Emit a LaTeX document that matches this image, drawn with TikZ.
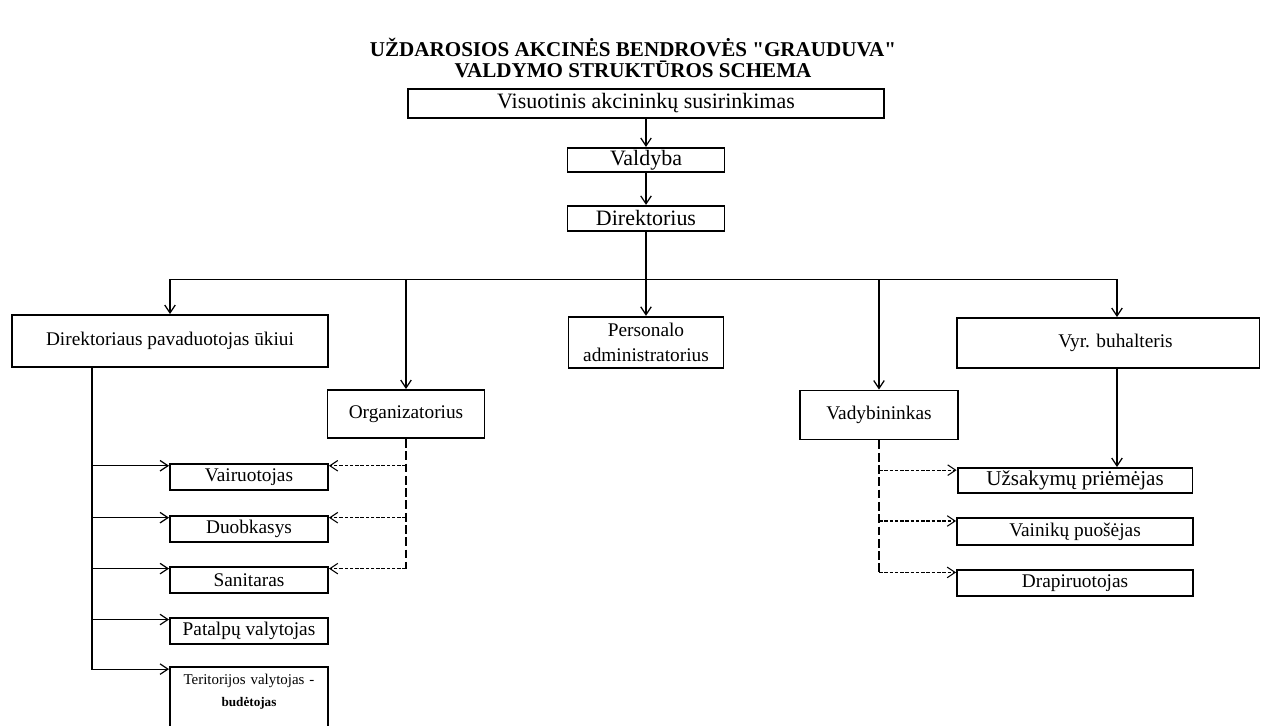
\documentclass[tikz,border=0pt]{standalone}
\usepackage{fontspec}
\setmainfont{Liberation Serif}[Ligatures=TeXOff]
\usepackage{tikz}
\usetikzlibrary{arrows.meta}
\usetikzlibrary{positioning}

\begin{document}
\begin{tikzpicture}[>={Straight Barb[length=4.5pt, width=6pt]}, x=0.02cm, y=-0.02cm,
  box/.style={draw, line width=1.1pt, inner sep=0pt, minimum height=0.5cm},
  big/.style={box, font=\fontsize{12.5}{15}\selectfont},
  mid/.style={box, font=\fontsize{11}{14}\selectfont},
  lnk/.style={line width=0.7pt},
  trunk/.style={line width=1.3pt, dash pattern=on 5pt off 2pt},
  twig/.style={->, line width=0.6pt, dash pattern=on 2pt off 1pt}]
\useasboundingbox (0,0) rectangle (1267,726);
\node (TTL) [align=center, font=\bfseries\fontsize{12}{12.5}\selectfont] at (633,58)
  {UŽDAROSIOS AKCINĖS BENDROVĖS "GRAUDUVA"\\VALDYMO STRUKTŪROS SCHEMA};
% top of the chart
\node (VAS) [big, minimum width=9.52cm, minimum height=0.58cm] at (646,103.5) {Visuotinis akcininkų susirinkimas};
\node (VAL) [big, minimum width=3.14cm, minimum height=0.48cm, below=0.56cm of VAS] {Valdyba};
\node (DIR) [big, minimum width=3.14cm, below=0.64cm of VAL] {Direktorius};
\node (PER) [mid, minimum width=3.1cm, minimum height=1.02cm, align=center, below=1.68cm of DIR] {Personalo\\administratorius};
\node (DPU) [mid, minimum width=6.32cm, minimum height=1.04cm] at (170,341) {Direktoriaus pavaduotojas ūkiui};
\node (ORG) [mid, minimum width=3.14cm, minimum height=0.96cm] at (406,414) {Organizatorius};
\node (VAD) [mid, minimum width=3.16cm, minimum height=0.98cm] at (879,415) {Vadybininkas};
\node (BUH) [mid, minimum width=6.06cm, minimum height=1cm] at (1108,343) {\hspace{0.3cm}Vyr. buhalteris};
% left column
\node (VAI) [mid, minimum width=3.16cm, minimum height=0.52cm] at (249,477) {Vairuotojas};
\node (DUO) [mid, minimum width=3.16cm, minimum height=0.52cm, below=0.48cm of VAI] {Duobkasys};
\node (SAN) [mid, minimum width=3.16cm, minimum height=0.52cm, below=0.46cm of DUO] {Sanitaras};
\node (PAT) [mid, minimum width=3.16cm, minimum height=0.52cm, below=0.46cm of SAN] {Patalpų valytojas};
\node (TER) [box, text width=2.9cm, inner xsep=0.13cm, inner ysep=4pt, align=center, text depth=1.1cm,
  font=\fontsize{8.5}{13}\selectfont, below=0.42cm of PAT]
  {Teritorijos valytojas -\\{\fontsize{7.5}{9}\selectfont\bfseries budėtojas}};
% right column
\node (UZS) [mid, minimum width=4.7cm, font=\fontsize{12}{14}\selectfont] at (1075,480.5) {Užsakymų priėmėjas};
\node (PUO) [mid, minimum width=4.72cm, minimum height=0.54cm, below=0.46cm of UZS] {Vainikų puošėjas};
\node (DRA) [mid, minimum width=4.72cm, minimum height=0.52cm, below=0.46cm of PUO] {Drapiruotojas};

\draw[->, lnk] (VAS) -- (VAL);
\draw[->, lnk] (VAL) -- (DIR);
\draw[->, lnk] (DIR) -- (PER);
\coordinate (bus) at ([yshift=-0.96cm]DIR.south);
\draw[->, lnk] (bus) -| (DPU);
\draw[->, lnk] (bus) -| (ORG);
\draw[->, lnk] (bus) -| (VAD);
\draw[->, lnk] (bus) -| ([xshift=0.18cm]BUH.north);
\draw[->, lnk] ([xshift=0.18cm]BUH.south) -- ([xshift=0.18cm]BUH.south |- UZS.north);
% solid links of the deputy
\coordinate (l0) at ([xshift=-1.56cm]DPU.south);
\draw[->, lnk] (l0) |- (TER.155);
\foreach \n in {VAI, DUO, SAN, PAT}
  \draw[->, lnk] (l0 |- \n.172) -- (\n.172);
% dashed links
\draw[trunk] (ORG.south) -- (ORG.south |- SAN.8);
\foreach \n in {VAI, DUO, SAN}
  \draw[twig] (ORG.south |- \n.8) -- (\n.8);
\draw[trunk] (VAD.south) -- (VAD.south |- DRA.175);
\foreach \n in {UZS, PUO, DRA}
  \draw[twig] (VAD.south |- \n.175) -- (\n.175);
\end{tikzpicture}
\end{document}
